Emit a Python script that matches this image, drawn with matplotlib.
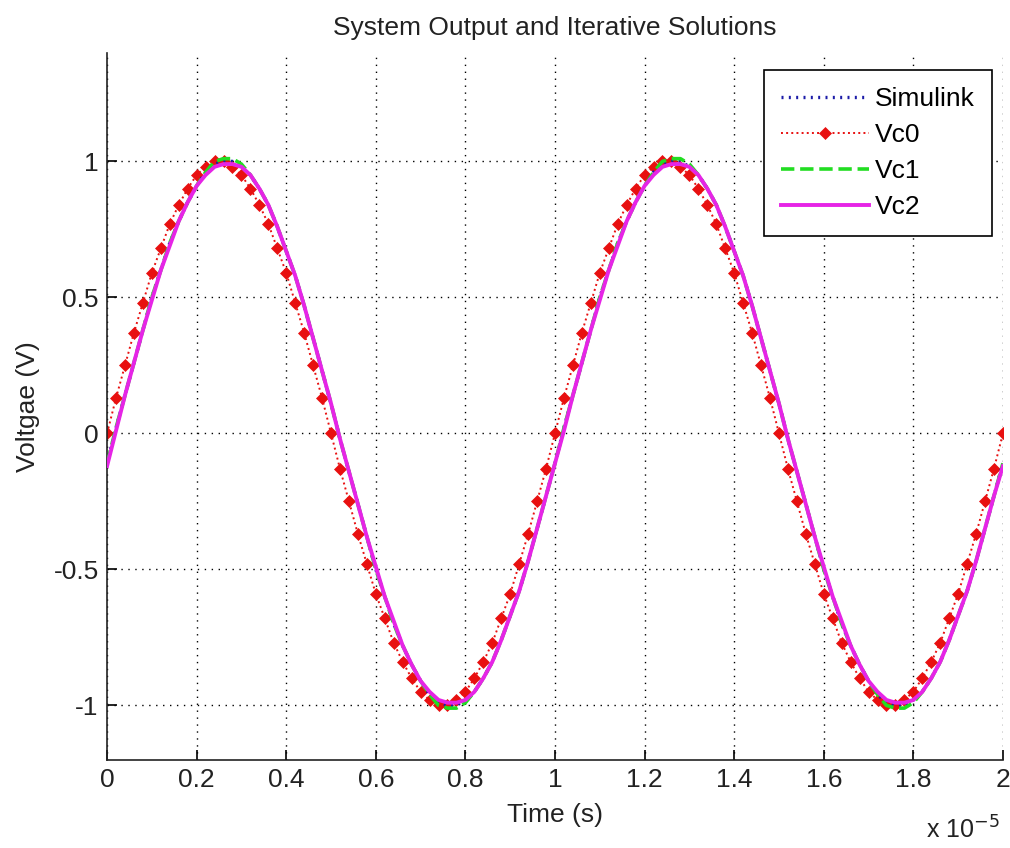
import numpy as np
import matplotlib
matplotlib.use('Agg')
import matplotlib.pyplot as plt

plt.rcParams['font.family'] = ['Liberation Sans', 'DejaVu Sans']

# ── Data (time in units of 1e-5 s, 101 samples) ───────────────────────────────
t_scaled = np.linspace(0, 2, 101)

vc0 = [0.00, 0.13, 0.25, 0.37, 0.48, 0.59, 0.68, 0.77, 0.84, 0.90,
       0.95, 0.98, 1.00, 1.00, 0.98, 0.95, 0.90, 0.84, 0.77, 0.68,
       0.59, 0.48, 0.37, 0.25, 0.13,
       0.00, -0.13, -0.25, -0.37, -0.48, -0.59, -0.68, -0.77, -0.84, -0.90,
       -0.95, -0.98, -1.00, -1.00, -0.98, -0.95, -0.90, -0.84, -0.77, -0.68,
       -0.59, -0.48, -0.37, -0.25, -0.13,
       0.00, 0.13, 0.25, 0.37, 0.48, 0.59, 0.68, 0.77, 0.84, 0.90,
       0.95, 0.98, 1.00, 1.00, 0.98, 0.95, 0.90, 0.84, 0.77, 0.68,
       0.59, 0.48, 0.37, 0.25, 0.13,
       0.00, -0.13, -0.25, -0.37, -0.48, -0.59, -0.68, -0.77, -0.84, -0.90,
       -0.95, -0.98, -1.00, -1.00, -0.98, -0.95, -0.90, -0.84, -0.77, -0.68,
       -0.59, -0.48, -0.37, -0.25, -0.13,
       0.00]

simulink = [-0.11, 0.02, 0.14, 0.26, 0.38, 0.50, 0.60, 0.70, 0.78, 0.85,
            0.91, 0.96, 0.99, 1.00, 1.00, 0.98, 0.95, 0.90, 0.84, 0.76,
            0.67, 0.58, 0.47, 0.35, 0.23,
            0.11, -0.02, -0.14, -0.26, -0.38, -0.50, -0.60, -0.70, -0.78, -0.85,
            -0.91, -0.96, -0.99, -1.00, -1.00, -0.98, -0.95, -0.90, -0.84, -0.76,
            -0.67, -0.58, -0.47, -0.35, -0.23,
            -0.11, 0.02, 0.14, 0.26, 0.38, 0.50, 0.60, 0.70, 0.78, 0.85,
            0.91, 0.96, 0.99, 1.00, 1.00, 0.98, 0.95, 0.90, 0.84, 0.76,
            0.67, 0.58, 0.47, 0.35, 0.23,
            0.11, -0.02, -0.14, -0.26, -0.38, -0.50, -0.60, -0.70, -0.78, -0.85,
            -0.91, -0.96, -0.99, -1.00, -1.00, -0.98, -0.95, -0.90, -0.84, -0.76,
            -0.67, -0.58, -0.47, -0.35, -0.23,
            -0.11]

vc1 = [-0.11, 0.02, 0.14, 0.26, 0.38, 0.50, 0.60, 0.70, 0.78, 0.85,
       0.91, 0.96, 1.00, 1.01, 1.01, 0.99, 0.95, 0.90, 0.84, 0.76,
       0.67, 0.58, 0.47, 0.35, 0.23,
       0.11, -0.02, -0.14, -0.26, -0.38, -0.50, -0.60, -0.70, -0.78, -0.85,
       -0.91, -0.96, -1.00, -1.01, -1.01, -0.99, -0.95, -0.90, -0.84, -0.76,
       -0.67, -0.58, -0.47, -0.35, -0.23,
       -0.11, 0.02, 0.14, 0.26, 0.38, 0.50, 0.60, 0.70, 0.78, 0.85,
       0.91, 0.96, 1.00, 1.01, 1.01, 0.99, 0.95, 0.90, 0.84, 0.76,
       0.67, 0.58, 0.47, 0.35, 0.23,
       0.11, -0.02, -0.14, -0.26, -0.38, -0.50, -0.60, -0.70, -0.78, -0.85,
       -0.91, -0.96, -1.00, -1.01, -1.01, -0.99, -0.95, -0.90, -0.84, -0.76,
       -0.67, -0.58, -0.47, -0.35, -0.23,
       -0.11]

vc2 = [-0.12, 0.01, 0.14, 0.26, 0.38, 0.49, 0.60, 0.69, 0.78, 0.85,
       0.91, 0.95, 0.98, 0.99, 0.99, 0.98, 0.95, 0.90, 0.84, 0.76,
       0.67, 0.58, 0.47, 0.35, 0.23,
       0.11, -0.02, -0.14, -0.26, -0.38, -0.49, -0.60, -0.69, -0.78, -0.85,
       -0.91, -0.95, -0.98, -0.99, -0.99, -0.98, -0.95, -0.90, -0.84, -0.76,
       -0.67, -0.58, -0.47, -0.35, -0.23,
       -0.11, 0.01, 0.14, 0.26, 0.38, 0.49, 0.60, 0.69, 0.78, 0.85,
       0.91, 0.95, 0.98, 0.99, 0.99, 0.98, 0.95, 0.90, 0.84, 0.76,
       0.67, 0.58, 0.47, 0.35, 0.23,
       0.11, -0.02, -0.14, -0.26, -0.38, -0.49, -0.60, -0.69, -0.78, -0.85,
       -0.91, -0.95, -0.98, -0.99, -0.99, -0.98, -0.95, -0.90, -0.84, -0.76,
       -0.67, -0.58, -0.47, -0.35, -0.23,
       -0.12]

x_ticks = [0, 0.2, 0.4, 0.6, 0.8, 1, 1.2, 1.4, 1.6, 1.8, 2]
x_labels = ['0', '0.2', '0.4', '0.6', '0.8', '1', '1.2', '1.4', '1.6', '1.8', '2']
y_ticks = [-1, -0.5, 0, 0.5, 1]
y_labels = ['-1', '-0.5', '0', '0.5', '1']

# ── Plot ──────────────────────────────────────────────────────────────────────
fig = plt.figure(figsize=(10.1, 8.48), dpi=100)
ax = fig.add_axes([0.106, 0.104, 0.887, 0.834])

ax.plot(t_scaled, simulink, color='#1c1ca8', linestyle=(0, (0.6, 1.6)),
        linewidth=2.4, label='Simulink', zorder=3)
ax.plot(t_scaled, vc0, color='#e81010', linestyle=':', linewidth=1.4,
        marker='D', markersize=6, markeredgewidth=0.5, label='Vc0', zorder=2)
ax.plot(t_scaled, vc1, color='#22dd22', linestyle='--', linewidth=2.6,
        label='Vc1', zorder=4)
ax.plot(t_scaled, vc2, color='#e624e6', linestyle='-', linewidth=2.8,
        label='Vc2', zorder=5)

ax.set_xlim(0, 2)
ax.set_ylim(-1.2, 1.4)
ax.set_xticks(x_ticks); ax.set_xticklabels(x_labels)
ax.set_yticks(y_ticks); ax.set_yticklabels(y_labels)
ax.tick_params(direction='in', length=7, width=1.2, labelsize=19, pad=6,
               labelcolor='#222222')
ax.grid(True, color='black', linestyle=(0, (1, 4)), linewidth=1.0)
ax.spines['top'].set_visible(False)
ax.spines['right'].set_visible(False)
for s in ('left', 'bottom'):
    ax.spines[s].set_linewidth(1.2)
    ax.spines[s].set_color('#222222')

ax.set_title('System Output and Iterative Solutions', fontsize=19, pad=13,
             color='#222222')
ax.set_xlabel('Time (s)', fontsize=19, labelpad=8, color='#222222')
ax.set_ylabel('Voltgae (V)', fontsize=19, labelpad=10, color='#222222')
fig.text(0.99, 0.005, r'x 10$^{-5}$', ha='right', va='bottom', fontsize=18,
         color='#222222')

leg = ax.legend(loc='upper right', fontsize=19, handlelength=3.3,
                handletextpad=0.25, labelspacing=0.45, borderpad=0.65,
                borderaxespad=0, fancybox=False, framealpha=1,
                edgecolor='black', bbox_to_anchor=(0.988, 0.975))
leg.get_frame().set_linewidth(1.2)

plt.savefig('out.png', dpi=100)
